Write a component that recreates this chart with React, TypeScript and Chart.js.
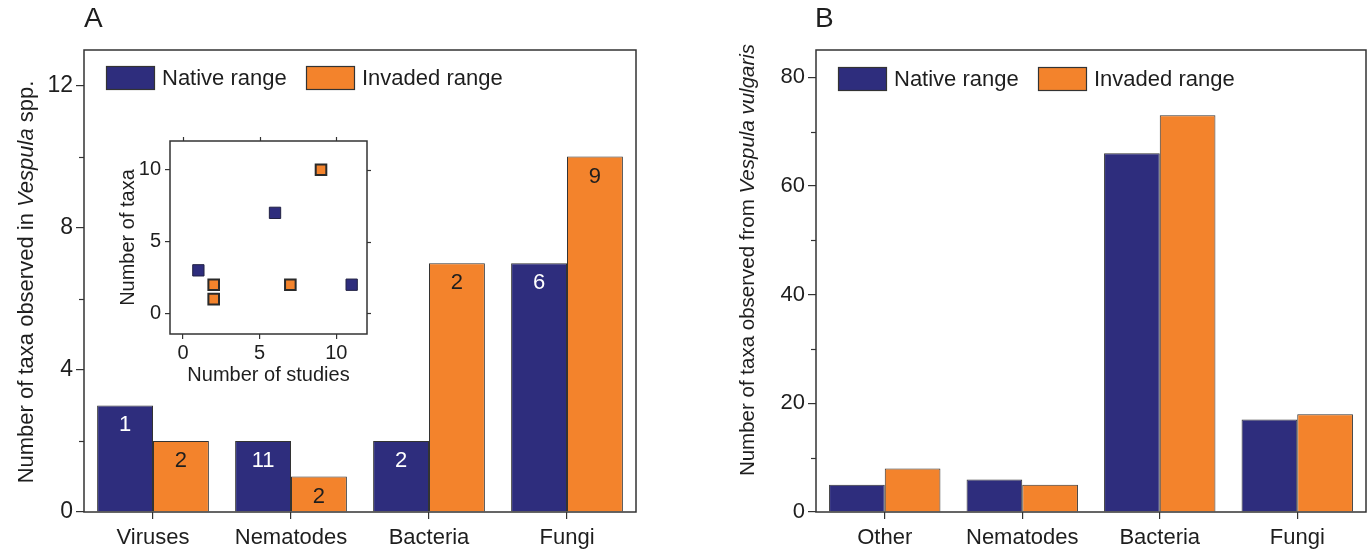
import React, { useEffect, useRef } from 'react';
import { Chart, registerables } from 'chart.js';
Chart.register(...registerables);

// ---------- data ----------
const seriesLabels = ['Native range', 'Invaded range'];

const categoriesA = ['Viruses', 'Nematodes', 'Bacteria', 'Fungi'];
const nativeA = [3, 2, 2, 7];
const invadedA = [2, 1, 7, 10];
const nativeStudiesA = ['1', '11', '2', '6'];
const invadedStudiesA = ['2', '2', '2', '9'];
const yMinorA = [2, 6, 10];

const insetNativeX = [1, 6, 11];
const insetNativeY = [3, 7, 2];
const insetInvadedX = [2, 2, 7, 9];
const insetInvadedY = [2, 1, 2, 10];
const insetTicks = [0, 5, 10];

const categoriesB = ['Other', 'Nematodes', 'Bacteria', 'Fungi'];
const nativeB = [5, 6, 66, 17];
const invadedB = [8, 5, 73, 18];
const yMinorB = [10, 30, 50, 70];

// ---------- styles ----------
const FONT = "'Liberation Sans', Arial, sans-serif";
const NAVY = '#2E2D7D';
const ORANGE = '#F3832C';
const LINE = '#333333';
const TEXT = '#1e1e1e';

type Part = { t: string; italic?: boolean };

function drawRotatedMixed(ctx: CanvasRenderingContext2D, parts: Part[], size: number, cx: number, cy: number) {
  ctx.save();
  ctx.translate(cx, cy);
  ctx.rotate(-Math.PI / 2);
  const fonts = parts.map((p) => `${p.italic ? 'italic ' : ''}${size}px ${FONT}`);
  let total = 0;
  const widths = parts.map((p, i) => {
    ctx.font = fonts[i];
    const w = ctx.measureText(p.t).width;
    total += w;
    return w;
  });
  let x = -total / 2;
  ctx.textBaseline = 'middle';
  ctx.textAlign = 'left';
  ctx.fillStyle = TEXT;
  parts.forEach((p, i) => {
    ctx.font = fonts[i];
    ctx.fillText(p.t, x, 0);
    x += widths[i];
  });
  ctx.restore();
}

function drawLegend(ctx: CanvasRenderingContext2D, items: { x: number; y: number; color: string; label: string; tx: number }[], size: number) {
  ctx.save();
  items.forEach((it) => {
    ctx.fillStyle = it.color;
    ctx.fillRect(it.x, it.y, 49, 24);
    ctx.strokeStyle = LINE;
    ctx.lineWidth = 1.2;
    ctx.strokeRect(it.x + 0.5, it.y + 0.5, 48, 23);
    ctx.fillStyle = TEXT;
    ctx.font = `${size}px ${FONT}`;
    ctx.textAlign = 'left';
    ctx.textBaseline = 'middle';
    ctx.fillText(it.label, it.tx, it.y + 13);
  });
  ctx.restore();
}

function drawBox(chart: any, lw = 1.5) {
  const { ctx, chartArea: a } = chart;
  ctx.save();
  ctx.strokeStyle = LINE;
  ctx.lineWidth = lw;
  ctx.strokeRect(a.left, a.top, a.right - a.left, a.bottom - a.top);
  ctx.restore();
}

function drawMinorY(chart: any, values: number[], len: number) {
  const { ctx, chartArea: a } = chart;
  const y = chart.scales.y;
  ctx.save();
  ctx.strokeStyle = LINE;
  ctx.lineWidth = 1.2;
  values.forEach((v) => {
    const py = Math.round(y.getPixelForValue(v)) + 0.5;
    ctx.beginPath();
    ctx.moveTo(a.left - len, py);
    ctx.lineTo(a.left, py);
    ctx.stroke();
  });
  ctx.restore();
}

function barOptions(yMax: number, step: number, yWidth: number, fontSize: number, padRight: number, plugin: any) {
  return {
    type: 'bar' as const,
    options: {
      responsive: false,
      animation: false as const,
      devicePixelRatio: 1,
      layout: { padding: { top: 50, right: padRight, left: 0, bottom: 0 } },
      plugins: { legend: { display: false }, tooltip: { enabled: false } },
      datasets: { bar: { categoryPercentage: 0.81, barPercentage: 1.0 } },
      scales: {
        x: {
          offset: true,
          grid: { offset: false, drawOnChartArea: false, drawTicks: true, tickLength: 7, color: LINE, lineWidth: 1.2 },
          border: { display: false },
          ticks: { color: TEXT, font: { family: FONT, size: 22 }, padding: 6, maxRotation: 0 },
          afterFit: (s: any) => { s.height = 38; },
        },
        y: {
          min: 0,
          max: yMax,
          grid: { drawOnChartArea: false, drawTicks: true, tickLength: 8, color: LINE, lineWidth: 1.2 },
          border: { display: false },
          ticks: { stepSize: step, includeBounds: false, color: TEXT, font: { family: FONT, size: fontSize }, padding: 3 },
          afterFit: (s: any) => { s.width = yWidth; },
        },
      },
    },
    plugins: [plugin],
  };
}

export default function App() {
  const refA = useRef<HTMLCanvasElement>(null);
  const refB = useRef<HTMLCanvasElement>(null);
  const refI = useRef<HTMLCanvasElement>(null);

  useEffect(() => {
    document.body.style.margin = '0';
    const charts: Chart[] = [];

    const decorA = {
      id: 'decorA',
      afterDraw(chart: any) {
        const ctx = chart.ctx as CanvasRenderingContext2D;
        drawBox(chart);
        drawMinorY(chart, yMinorA, 5);
        const labelSets = [nativeStudiesA, invadedStudiesA];
        const labelColors = ['#ffffff', TEXT];
        ctx.save();
        ctx.font = `22px ${FONT}`;
        ctx.textAlign = 'center';
        ctx.textBaseline = 'middle';
        [0, 1].forEach((di) => {
          const meta = chart.getDatasetMeta(di);
          meta.data.forEach((el: any, i: number) => {
            ctx.fillStyle = labelColors[di];
            ctx.fillText(labelSets[di][i], el.x, el.y + 20);
          });
        });
        ctx.restore();
        drawLegend(ctx, [
          { x: 106, y: 66, color: NAVY, label: seriesLabels[0], tx: 162 },
          { x: 306, y: 66, color: ORANGE, label: seriesLabels[1], tx: 362 },
        ], 22);
        drawRotatedMixed(ctx, [
          { t: 'Number of taxa observed in ' },
          { t: 'Vespula', italic: true },
          { t: ' spp.' },
        ], 22, 27, 282);
        ctx.save();
        ctx.fillStyle = TEXT;
        ctx.font = `28px ${FONT}`;
        ctx.textAlign = 'left';
        ctx.textBaseline = 'middle';
        ctx.fillText('A', 84, 19);
        ctx.restore();
      },
    };

    const cfgA: any = barOptions(13, 4, 84, 23, 24, decorA);
    cfgA.data = {
      labels: categoriesA,
      datasets: [
        { label: seriesLabels[0], data: nativeA, backgroundColor: NAVY, borderColor: LINE, borderWidth: 1 },
        { label: seriesLabels[1], data: invadedA, backgroundColor: ORANGE, borderColor: LINE, borderWidth: 1 },
      ],
    };
    charts.push(new Chart(refA.current!, cfgA));

    const decorB = {
      id: 'decorB',
      afterDraw(chart: any) {
        const ctx = chart.ctx as CanvasRenderingContext2D;
        drawBox(chart);
        drawMinorY(chart, yMinorB, 5);
        drawLegend(ctx, [
          { x: 138, y: 67, color: NAVY, label: seriesLabels[0], tx: 194 },
          { x: 338, y: 67, color: ORANGE, label: seriesLabels[1], tx: 394 },
        ], 22);
        drawRotatedMixed(ctx, [
          { t: 'Number of taxa observed from ' },
          { t: 'Vespula vulgaris', italic: true },
        ], 20.5, 48, 260);
        ctx.save();
        ctx.fillStyle = TEXT;
        ctx.font = `28px ${FONT}`;
        ctx.textAlign = 'left';
        ctx.textBaseline = 'middle';
        ctx.fillText('B', 115, 19);
        ctx.restore();
      },
    };
    const cfgB: any = barOptions(85, 20, 116, 22, 1, decorB);
    cfgB.data = {
      labels: categoriesB,
      datasets: [
        { label: seriesLabels[0], data: nativeB, backgroundColor: NAVY, borderColor: LINE, borderWidth: 1 },
        { label: seriesLabels[1], data: invadedB, backgroundColor: ORANGE, borderColor: LINE, borderWidth: 1 },
      ],
    };
    charts.push(new Chart(refB.current!, cfgB));

    const decorI = {
      id: 'decorI',
      afterDraw(chart: any) {
        const ctx = chart.ctx as CanvasRenderingContext2D;
        const a = chart.chartArea;
        drawBox(chart, 1.5);
        ctx.save();
        ctx.strokeStyle = LINE;
        ctx.lineWidth = 1.2;
        insetTicks.forEach((v) => {
          const px = Math.round(chart.scales.x.getPixelForValue(v)) + 0.5;
          ctx.beginPath();
          ctx.moveTo(px, a.top - 4);
          ctx.lineTo(px, a.top);
          ctx.stroke();
          const py = Math.round(chart.scales.y.getPixelForValue(v)) + 0.5;
          ctx.beginPath();
          ctx.moveTo(a.right, py);
          ctx.lineTo(a.right + 4, py);
          ctx.stroke();
        });
        ctx.fillStyle = TEXT;
        ctx.font = `20px ${FONT}`;
        ctx.textAlign = 'center';
        ctx.textBaseline = 'middle';
        ctx.fillText('Number of studies', (a.left + a.right) / 2, 250);
        ctx.restore();
        drawRotatedMixed(ctx, [{ t: 'Number of taxa' }], 20, 28, (a.top + a.bottom) / 2);
      },
    };
    const cfgI: any = {
      type: 'scatter',
      data: {
        datasets: [
          {
            label: seriesLabels[0],
            data: insetNativeX.map((x, i) => ({ x, y: insetNativeY[i] })),
            pointStyle: 'rect',
            pointRadius: 8,
            backgroundColor: NAVY,
            borderColor: '#222244',
            borderWidth: 1,
          },
          {
            label: seriesLabels[1],
            data: insetInvadedX.map((x, i) => ({ x, y: insetInvadedY[i] })),
            pointStyle: 'rect',
            pointRadius: 7.5,
            backgroundColor: ORANGE,
            borderColor: '#2a2a2a',
            borderWidth: 2,
          },
        ],
      },
      options: {
        responsive: false,
        animation: false,
        devicePixelRatio: 1,
        layout: { padding: { top: 9, right: 23, left: 0, bottom: 0 } },
        plugins: { legend: { display: false }, tooltip: { enabled: false } },
        scales: {
          x: {
            type: 'linear',
            min: -0.85,
            max: 12,
            grid: { drawOnChartArea: false, drawTicks: true, tickLength: 5, color: LINE, lineWidth: 1.2 },
            border: { display: false },
            ticks: { stepSize: 5, includeBounds: false, color: TEXT, font: { family: FONT, size: 20 }, padding: 2, maxRotation: 0 },
            afterFit: (s: any) => { s.height = 56; },
          },
          y: {
            type: 'linear',
            min: -1.43,
            max: 12,
            grid: { drawOnChartArea: false, drawTicks: true, tickLength: 5, color: LINE, lineWidth: 1.2 },
            border: { display: false },
            ticks: { stepSize: 5, includeBounds: false, color: TEXT, font: { family: FONT, size: 20 }, padding: 4 },
            afterFit: (s: any) => { s.width = 70; },
          },
        },
      },
      plugins: [decorI],
    };
    charts.push(new Chart(refI.current!, cfgI));

    return () => charts.forEach((c) => c.destroy());
  }, []);

  return (
    <div style={{ position: 'relative', width: 1367, height: 550, background: '#fff', overflow: 'hidden' }}>
      <canvas ref={refA} width={660} height={550} style={{ position: 'absolute', left: 0, top: 0, width: 660, height: 550 }} />
      <canvas ref={refB} width={667} height={550} style={{ position: 'absolute', left: 700, top: 0, width: 667, height: 550 }} />
      <canvas ref={refI} width={290} height={265} style={{ position: 'absolute', left: 100, top: 125, width: 290, height: 265 }} />
    </div>
  );
}
